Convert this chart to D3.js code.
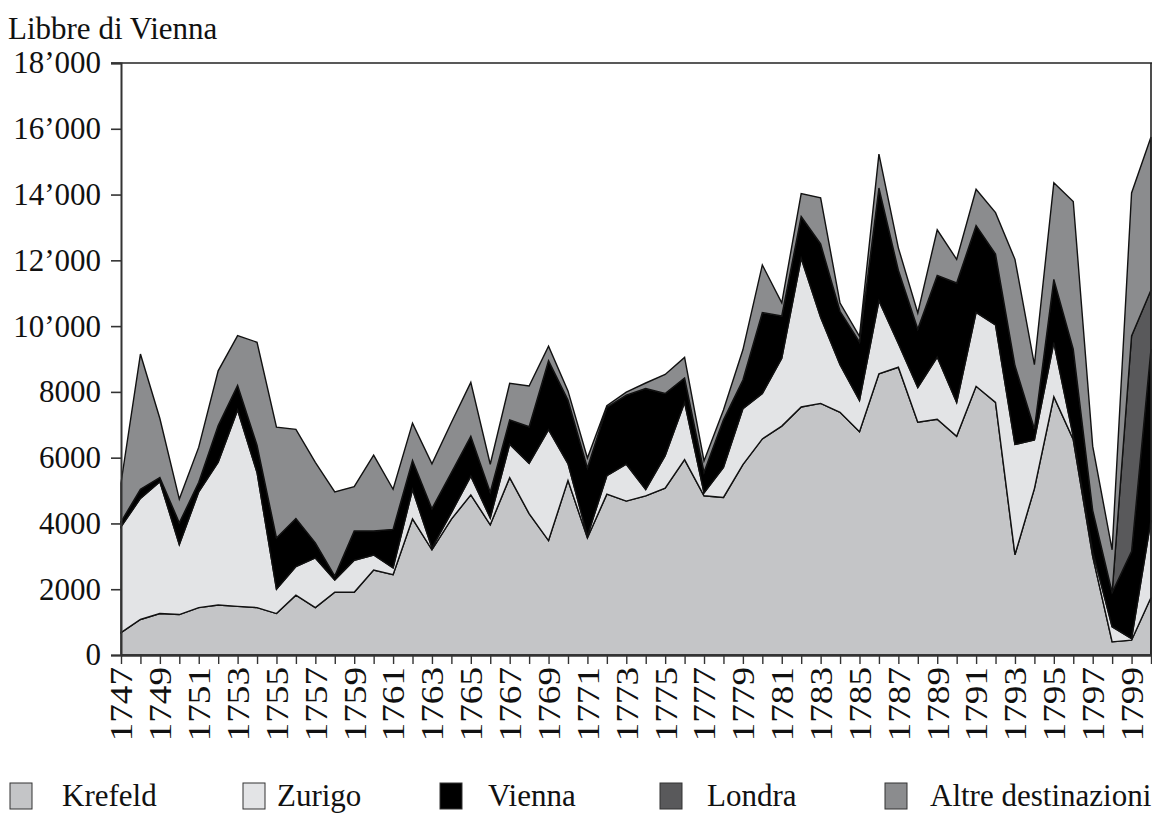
<!DOCTYPE html>
<html>
<head>
<meta charset="utf-8">
<script src="https://cdn.jsdelivr.net/npm/d3@7"></script>
<style>
  body { margin: 0; background: #fff; }
  text { font-family: "Liberation Serif", "Times New Roman", serif; fill: #111; }
</style>
</head>
<body>
<script>
// years on the x axis
var years = d3.range(1747, 1801);

// values per destination (libbre di Vienna)
var krefeld = [680, 1080, 1260, 1230, 1440, 1520, 1480, 1440, 1260, 1820,
    1440, 1910, 1910, 2580, 2440, 4140, 3200, 4130, 4870, 3960,
    5390, 4300, 3480, 5310, 3560, 4890, 4680, 4840, 5070, 5940,
    4840, 4790, 5790, 6570, 6960, 7540, 7650, 7380, 6790, 8550,
    8750, 7080, 7170, 6650, 8170, 7680, 3050, 5060, 7850, 6550,
    3000, 400, 450, 1750];
var zurigo = [3220, 3680, 4010, 2130, 3520, 4340, 5970, 4110, 740, 870,
    1510, 370, 970, 460, 210, 890, 60, 200, 570, 210,
    1020, 1530, 3370, 510, 60, 560, 1120, 190, 990, 1740,
    90, 910, 1700, 1380, 2060, 4520, 2620, 1450, 950, 2220,
    720, 1050, 1890, 1030, 2250, 2360, 3350, 1480, 1650, 100,
    150, 460, 50, 2350];
var vienna = [150, 280, 130, 660, 290, 1120, 750, 830, 1560, 1460,
    460, 120, 890, 730, 1170, 890, 1190, 1220, 1210, 780,
    740, 1110, 2100, 1930, 2070, 2080, 2100, 3070, 1890, 740,
    630, 1450, 870, 2460, 1290, 1270, 2230, 1620, 1780, 3430,
    2230, 1780, 2480, 3630, 2640, 2150, 2400, 340, 1920, 2650,
    1250, 1040, 2650, 5200];
var londra = [0, 0, 0, 0, 0, 0, 0, 0, 0, 0,
    0, 0, 0, 0, 0, 0, 0, 0, 0, 0,
    0, 0, 0, 0, 0, 0, 0, 0, 0, 0,
    0, 0, 0, 0, 0, 0, 0, 0, 0, 0,
    0, 0, 0, 0, 0, 0, 0, 0, 0, 0,
    0, 0, 6550, 1800];
var altre = [1180, 4110, 1790, 720, 1070, 1660, 1510, 3130, 3370, 2710,
    2450, 2560, 1350, 2310, 1220, 1130, 1360, 1520, 1640, 850,
    1110, 1240, 440, 280, 300, 50, 90, 170, 580, 630,
    340, 300, 920, 1450, 400, 700, 1400, 250, 170, 1030,
    680, 490, 1390, 720, 1100, 1260, 3230, 1950, 2940, 4490,
    1950, 1300, 4350, 4650];

var seriesNames = ["Krefeld", "Zurigo", "Vienna", "Londra", "Altre destinazioni"];
var seriesColors = ["#c4c5c7", "#e3e4e6", "#000000", "#59595b", "#8b8c8e"];
var yTicks = [0, 2000, 4000, 6000, 8000, 10000, 12000, 14000, 16000, 18000];
var yTitle = "Libbre di Vienna";

// build rows for the stack
var rows = years.map(function (yr, i) {
    return {
        year: yr,
        "Krefeld": krefeld[i],
        "Zurigo": zurigo[i],
        "Vienna": vienna[i],
        "Londra": londra[i],
        "Altre destinazioni": altre[i]
    };
});

var svg = d3.select("body").append("svg")
    .attr("width", 1152)
    .attr("height", 825);

var x = d3.scaleLinear().domain([1747, 1800]).range([121, 1151]);
var y = d3.scaleLinear().domain([0, 18000]).range([655, 63]);

var stack = d3.stack().keys(seriesNames);
var layers = stack(rows);

var area = d3.area()
    .x(function (d) { return x(d.data.year); })
    .y0(function (d) { return y(d[0]); })
    .y1(function (d) { return y(d[1]); });

svg.selectAll("path.layer")
    .data(layers)
    .enter().append("path")
    .attr("class", "layer")
    .attr("d", area)
    .attr("fill", function (d, i) { return seriesColors[i]; })
    .attr("stroke", "#111")
    .attr("stroke-width", 1.4)
    .attr("stroke-linejoin", "miter");

// frame top and right
svg.append("line")
    .attr("x1", 111).attr("x2", 1152)
    .attr("y1", y(18000)).attr("y2", y(18000))
    .attr("stroke", "#222").attr("stroke-width", 1.6);
svg.append("line")
    .attr("x1", 1151).attr("x2", 1151)
    .attr("y1", y(18000)).attr("y2", y(0))
    .attr("stroke", "#222").attr("stroke-width", 1.6);

// y axis
var fmt = function (d) {
    return d >= 10000 ? d3.format(",")(d).replace(",", "\u2019") : String(d);
};
var yAxis = svg.append("g")
    .attr("transform", "translate(121,0)")
    .call(d3.axisLeft(y).tickValues(yTicks).tickFormat(fmt).tickSize(10).tickPadding(10));
yAxis.select(".domain").attr("stroke", "#333").attr("stroke-width", 2);
yAxis.selectAll(".tick line").attr("stroke", "#333").attr("stroke-width", 1.6);
yAxis.selectAll(".tick text")
    .style("font-family", "'Liberation Serif', serif")
    .style("font-size", "31px")
    .attr("fill", "#111");

// x axis
var xAxis = svg.append("g")
    .attr("transform", "translate(0,655)")
    .call(d3.axisBottom(x).tickValues(years).tickFormat(function (d) {
        return (d - 1747) % 2 === 0 && d < 1800 ? String(d) : "";
    }).tickSize(9).tickSizeOuter(0));
xAxis.select(".domain").attr("stroke", "#333").attr("stroke-width", 2.4);
xAxis.selectAll(".tick line").attr("stroke", "#333").attr("stroke-width", 1.4);
xAxis.selectAll(".tick text")
    .style("font-family", "'Liberation Serif', serif")
    .style("font-size", "31px")
    .attr("fill", "#111")
    .attr("transform", "rotate(-90) scale(1.2,1)")
    .attr("text-anchor", "end")
    .attr("x", -10)
    .attr("y", 0)
    .attr("dy", "0.35em");

// y title
svg.append("text")
    .attr("x", 8)
    .attr("y", 39)
    .style("font-size", "31px")
    .text(yTitle);

// legend
var legendBoxX = [10, 243, 440, 660, 885];
var legendTextX = [62, 277, 488, 707, 930];
svg.selectAll("rect.leg")
    .data(seriesNames)
    .enter().append("rect")
    .attr("class", "leg")
    .attr("x", function (d, i) { return legendBoxX[i]; })
    .attr("y", 783)
    .attr("width", 22)
    .attr("height", 26)
    .attr("fill", function (d, i) { return seriesColors[i]; })
    .attr("stroke", "#333")
    .attr("stroke-width", 1);
svg.selectAll("text.leg")
    .data(seriesNames)
    .enter().append("text")
    .attr("class", "leg")
    .attr("x", function (d, i) { return legendTextX[i]; })
    .attr("y", 806)
    .style("font-size", "31px")
    .text(function (d) { return d; });
</script>
</body>
</html>
